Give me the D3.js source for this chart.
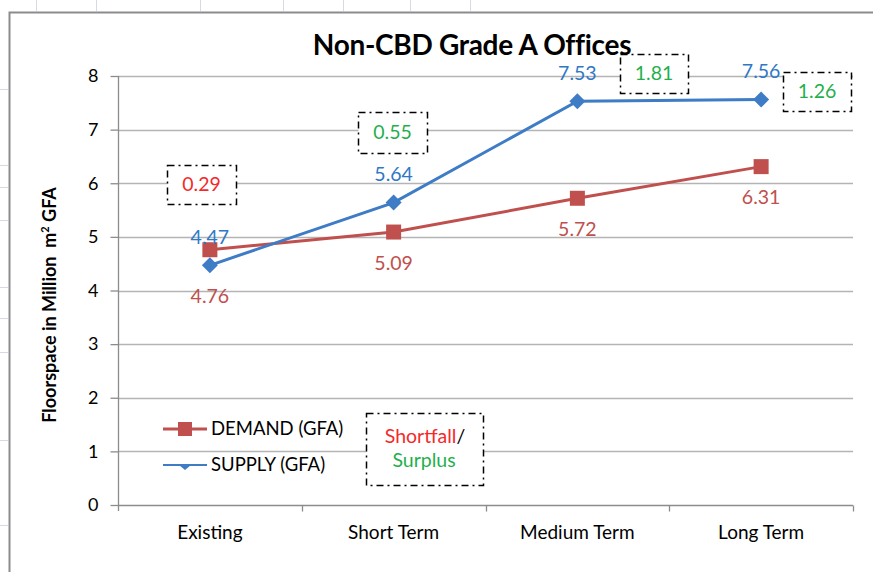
<!DOCTYPE html>
<html>
<head>
<meta charset="utf-8">
<script src="https://cdn.jsdelivr.net/npm/d3@7"></script>
<style>
  body { margin: 0; background: #fff; }
  text { font-family: Lato, "Open Sans", sans-serif; }
</style>
</head>
<body>
<div id="container"></div>
<script>
// data
const periods = ["Existing", "Short Term", "Medium Term", "Long Term"];
const demand = [4.76, 5.09, 5.72, 6.31];
const supply = [4.47, 5.64, 7.53, 7.56];
const gap = ["0.29", "0.55", "1.81", "1.26"];
const gapType = ["shortfall", "surplus", "surplus", "surplus"];
const yTicks = [0, 1, 2, 3, 4, 5, 6, 7, 8];

const width = 873, height = 572;
const red = "#C0504D", blue = "#3E7CC6";
const redLbl = "#C0504D", blueLbl = "#2F78C6";
const shortCol = "#F42A2A", surpCol = "#1FB04C";

const svg = d3.select("#container").append("svg")
  .attr("width", width).attr("height", height);

// spreadsheet leftovers round the chart object
const sheet = svg.append("g").attr("stroke", "#d5dbe4").attr("stroke-width", 1);
[36, 96, 200, 283, 343, 410, 470].forEach(x =>
  sheet.append("line").attr("x1", x + .5).attr("x2", x + .5).attr("y1", 0).attr("y2", 11));
[89, 165, 187, 220, 287, 318, 352, 440, 525].forEach(y =>
  sheet.append("line").attr("x1", 0).attr("x2", 8).attr("y1", y + .5).attr("y2", y + .5));

// chart frame
svg.append("path")
  .attr("d", "M9.5,572 V12.5 H873")
  .attr("fill", "none").attr("stroke", "#8c8c8c").attr("stroke-width", 2);

const x = d3.scaleBand().domain(periods).range([118, 853]);
const cx = d => x(d) + x.bandwidth() / 2;
const y = d3.scaleLinear().domain([0, 8]).range([505, 76]);

// gridlines
svg.append("g").selectAll("line").data(yTicks.slice(1)).join("line")
  .attr("x1", 118).attr("x2", 853)
  .attr("y1", d => Math.round(y(d)) + .5).attr("y2", d => Math.round(y(d)) + .5)
  .attr("stroke", "#b4b4b4").attr("stroke-width", 1.3);

// y axis
const yAxis = svg.append("g").attr("transform", "translate(118.5,0)")
  .call(d3.axisLeft(y).tickValues(yTicks).tickSize(8).tickPadding(12).tickFormat(d3.format("d")));
yAxis.select(".domain").attr("d", "M0," + y(8) + "V511").attr("stroke", "#8c8c8c").attr("stroke-width", 1.3);
yAxis.selectAll(".tick line").attr("stroke", "#8c8c8c").attr("stroke-width", 1.3);
yAxis.selectAll(".tick text").attr("font-size", 18).attr("fill", "#000")
  .style("font-family", "Lato, sans-serif");

// x axis
const xb = d3.scaleLinear().domain([0, 4]).range([118, 853]);
const xAxis = svg.append("g").attr("transform", "translate(0,505.5)");
xAxis.append("line").attr("x1", 118).attr("x2", 853).attr("stroke", "#8c8c8c").attr("stroke-width", 1.3);
xAxis.selectAll(".bt").data([1, 2, 3, 4]).join("line")
  .attr("x1", d => Math.round(xb(d)) + .5).attr("x2", d => Math.round(xb(d)) + .5)
  .attr("y1", 0).attr("y2", 6).attr("stroke", "#8c8c8c").attr("stroke-width", 1.3);
xAxis.selectAll("text").data(periods).join("text")
  .attr("x", d => cx(d)).attr("y", 33).attr("text-anchor", "middle")
  .attr("font-size", 19).attr("fill", "#000").text(d => d);

// title
svg.append("text").attr("x", 472).attr("y", 55).attr("text-anchor", "middle")
  .attr("font-size", 28).attr("font-weight", "bold").attr("letter-spacing", -0.3)
  .text("Non-CBD Grade A Offices");

// y title
svg.append("text")
  .attr("transform", "translate(56,305) rotate(-90)")
  .attr("text-anchor", "middle").attr("font-size", 18).attr("font-weight", "bold")
  .html("Floorspace in Million&#160; m<tspan dy='-7' font-size='11'>2</tspan><tspan dy='7'> GFA</tspan>");

// lines
const line = d3.line().x((d, i) => cx(periods[i])).y(d => y(d));
svg.append("path").datum(demand).attr("d", line)
  .attr("fill", "none").attr("stroke", red).attr("stroke-width", 3);
svg.append("path").datum(supply).attr("d", line)
  .attr("fill", "none").attr("stroke", blue).attr("stroke-width", 3);

// markers
svg.selectAll(".dm").data(demand).join("rect")
  .attr("x", (d, i) => cx(periods[i]) - 7.5).attr("y", d => y(d) - 7.5)
  .attr("width", 15).attr("height", 15).attr("fill", red);
svg.selectAll(".sm").data(supply).join("path")
  .attr("transform", (d, i) => "translate(" + cx(periods[i]) + "," + y(d) + ")")
  .attr("d", "M0,-8L8,0L0,8L-8,0Z").attr("fill", blue);

// data labels
svg.selectAll(".sl").data(supply).join("text")
  .attr("x", (d, i) => cx(periods[i])).attr("y", d => y(d) - 28)
  .attr("dy", "0.35em").attr("text-anchor", "middle").attr("font-size", 19.5)
  .attr("fill", blueLbl).text(d => d.toFixed(2));
svg.selectAll(".dl").data(demand).join("text")
  .attr("x", (d, i) => cx(periods[i])).attr("y", (d, i) => y(i == 0 ? supply[0] : d) + 31)
  .attr("dy", "0.35em").attr("text-anchor", "middle").attr("font-size", 19.5)
  .attr("fill", redLbl).text(d => d.toFixed(2));

// shortfall / surplus boxes
const boxes = [
  { x: 167, y: 165, w: 69, h: 39 },
  { x: 358, y: 112, w: 69, h: 41 },
  { x: 620, y: 54, w: 68, h: 39 },
  { x: 783, y: 72, w: 68, h: 39 }
];
const dash = "7,4,2,4";
boxes.forEach((b, i) => {
  svg.append("rect").attr("x", b.x + .5).attr("y", b.y + .5).attr("width", b.w).attr("height", b.h)
    .attr("fill", "#fff").attr("stroke", "#000").attr("stroke-width", 1.5).attr("stroke-dasharray", dash);
  svg.append("text").attr("x", b.x + b.w / 2).attr("y", b.y + b.h / 2).attr("dy", "0.35em")
    .attr("text-anchor", "middle").attr("font-size", 19.5)
    .attr("fill", gapType[i] == "shortfall" ? shortCol : surpCol).text(gap[i]);
});

// legend
const lg = svg.append("g");
lg.append("line").attr("x1", 163).attr("x2", 207).attr("y1", 429).attr("y2", 429)
  .attr("stroke", red).attr("stroke-width", 3);
lg.append("rect").attr("x", 178).attr("y", 422).attr("width", 14).attr("height", 14).attr("fill", red);
lg.append("text").attr("x", 211).attr("y", 429).attr("dy", "0.35em").attr("font-size", 18.5).text("DEMAND (GFA)");
lg.append("line").attr("x1", 163).attr("x2", 207).attr("y1", 465).attr("y2", 465)
  .attr("stroke", blue).attr("stroke-width", 2);
lg.append("path").attr("d", "M179,465L191,465L185,470Z").attr("fill", blue);
lg.append("text").attr("x", 211).attr("y", 465).attr("dy", "0.35em").attr("font-size", 18.5).text("SUPPLY (GFA)");

svg.append("rect").attr("x", 366.5).attr("y", 413.5).attr("width", 117).attr("height", 72)
  .attr("fill", "#fff").attr("stroke", "#000").attr("stroke-width", 1.5).attr("stroke-dasharray", dash);
const kt = svg.append("text").attr("x", 425).attr("y", 436).attr("dy", "0.35em")
  .attr("text-anchor", "middle").attr("font-size", 19.5);
kt.append("tspan").attr("fill", shortCol).text("Shortfall");
kt.append("tspan").attr("fill", "#000").text("/");
svg.append("text").attr("x", 424).attr("y", 460).attr("dy", "0.35em")
  .attr("text-anchor", "middle").attr("font-size", 19.5).attr("fill", surpCol).text("Surplus");
</script>
</body>
</html>
